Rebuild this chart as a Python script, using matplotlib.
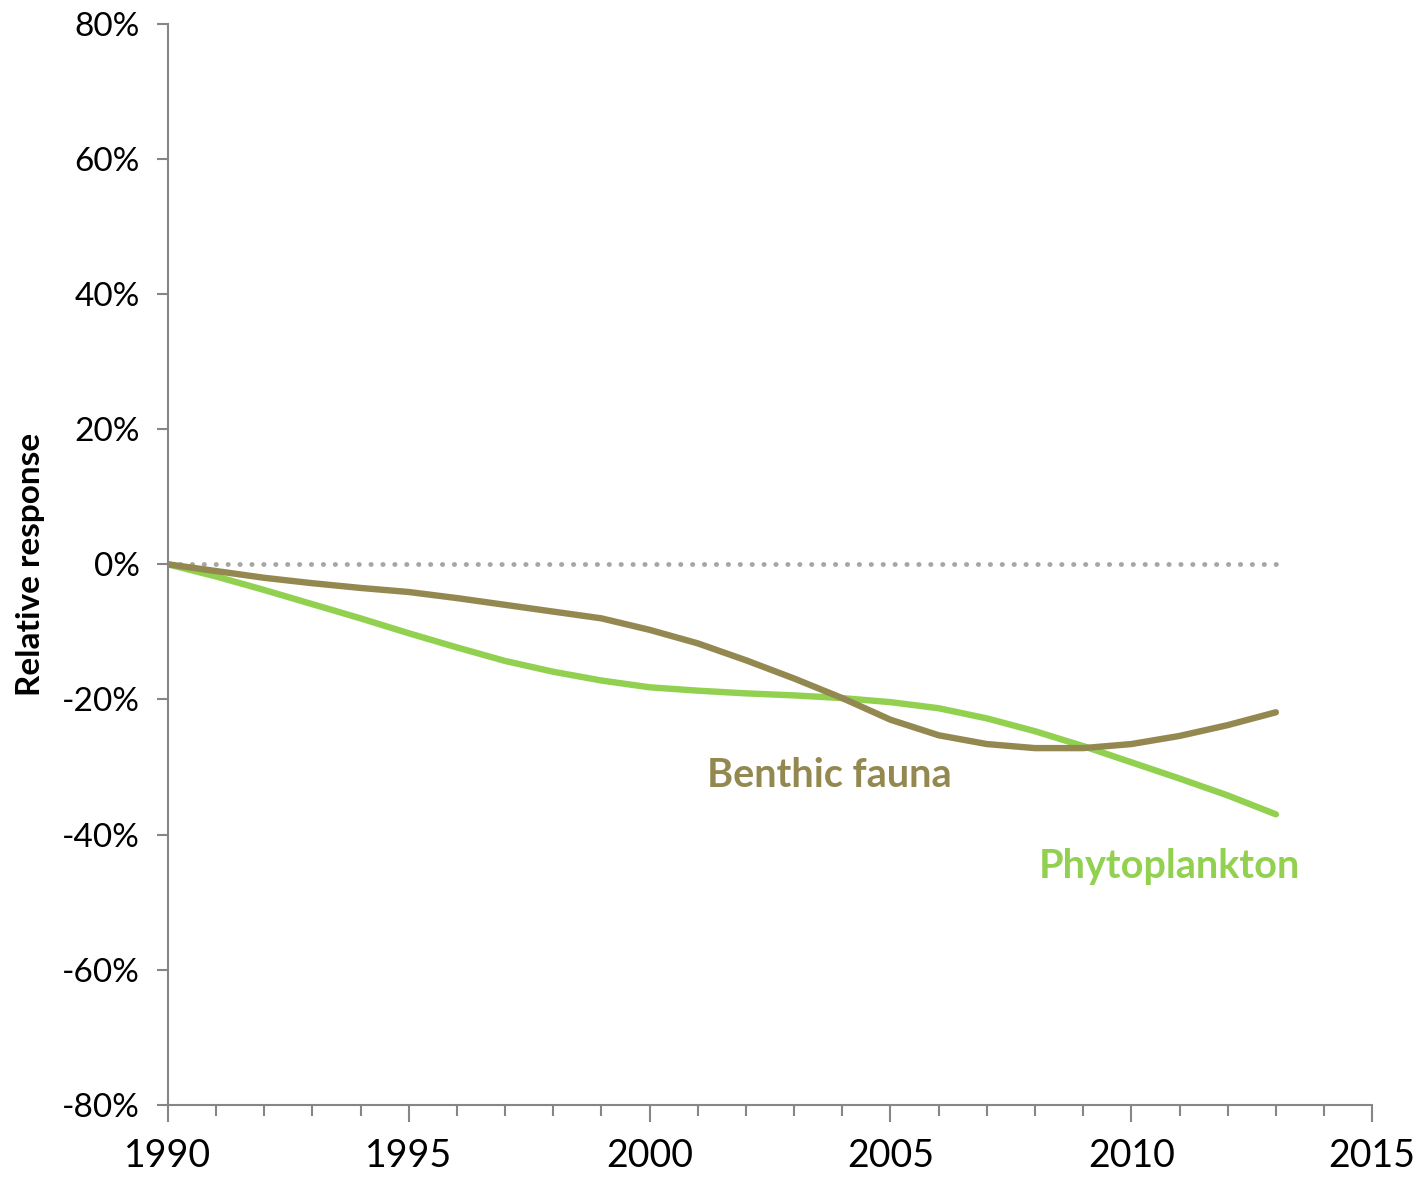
import numpy as np
import matplotlib.pyplot as plt
from matplotlib.ticker import MultipleLocator, FuncFormatter

years = list(range(1990, 2014))
benthic = [0, -1.0, -2.0, -2.8, -3.5, -4.1, -5.0, -6.0, -7.0, -8.0, -9.7, -11.7,
           -14.2, -16.9, -19.8, -23.0, -25.3, -26.6, -27.2, -27.2, -26.6, -25.4, -23.8, -21.9]
phyto = [0, -1.8, -3.8, -5.9, -8.0, -10.2, -12.3, -14.3, -15.9, -17.2, -18.2, -18.7,
         -19.1, -19.4, -19.8, -20.4, -21.3, -22.8, -24.7, -26.9, -29.3, -31.7, -34.2, -37.0]
zero_line = [0] * len(years)

brown = '#938950'
green = '#92D050'

plt.rcParams['font.family'] = ['Lato', 'DejaVu Sans']

fig = plt.figure(figsize=(14.22, 11.81), dpi=100)
ax = fig.add_axes([0.118, 0.0644, 0.847, 0.9156])

ax.plot(years, zero_line, color='#A6A6A6', lw=3.5, linestyle=(0, (0.05, 2.4)), dash_capstyle='round')
ax.plot(years, phyto, color=green, lw=4.6, solid_capstyle='round')
ax.plot(years, benthic, color=brown, lw=4.6, solid_capstyle='round')

ax.set_xlim(1990, 2015)
ax.set_ylim(-80, 80)
ax.xaxis.set_major_locator(MultipleLocator(5))
ax.xaxis.set_minor_locator(MultipleLocator(1))
ax.yaxis.set_major_locator(MultipleLocator(20))
ax.yaxis.set_major_formatter(FuncFormatter(lambda v, p: '{:.0f}%'.format(v)))

for s in ['top', 'right']:
    ax.spines[s].set_visible(False)
for s in ['left', 'bottom']:
    ax.spines[s].set_color('#868686')
    ax.spines[s].set_linewidth(1.5)

ax.tick_params(axis='x', which='major', length=12, width=1.5, color='#868686',
               labelsize=27, pad=12)
ax.tick_params(axis='x', which='minor', length=8, width=1.5, color='#868686')
ax.tick_params(axis='y', which='major', length=8, width=1.5, color='#868686',
               labelsize=24, pad=12)

ax.set_ylabel('Relative response', fontsize=24, fontweight='bold', labelpad=12)

ax.text(2003.73, -31.2, 'Benthic fauna', color=brown, fontsize=28.5,
        fontweight='bold', ha='center', va='center')
ax.text(2010.8, -44.7, 'Phytoplankton', color=green, fontsize=28.5,
        fontweight='bold', ha='center', va='center')

fig.savefig('out.png', dpi=100)
